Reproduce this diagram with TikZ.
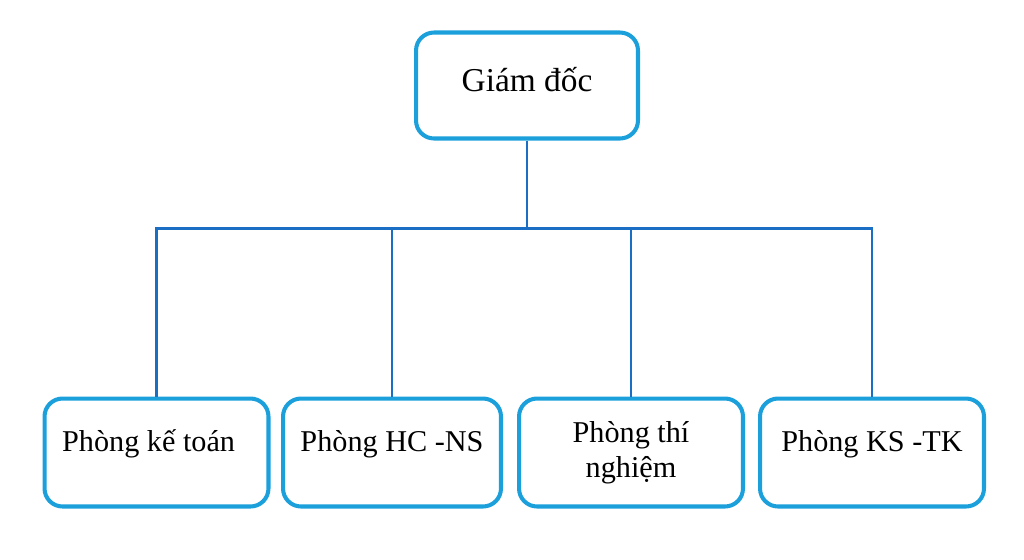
\documentclass[tikz,border=0pt]{standalone}
\usepackage{fontspec}
\setmainfont{Liberation Serif}
\definecolor{boxcyan}{HTML}{1BA0DC}
\definecolor{lineblue}{HTML}{1A6FC4}

\begin{document}
\begin{tikzpicture}[x=0.02cm, y=-0.02cm,
    unit/.style={rectangle, rounded corners=0.36cm, draw=boxcyan,
        line width=2.3pt, fill=white, minimum width=4.48cm,
        minimum height=2.16cm, inner sep=0pt,
        font=\fontsize{17.2}{20}\selectfont, text height=12pt, text depth=13pt},
    edge/.style={draw=lineblue, line width=1.2pt, -}
]
    \useasboundingbox (0,0) rectangle (1024,559);
    \node[unit, minimum width=4.44cm, minimum height=2.12cm,
        font=\fontsize{19}{22}\selectfont,
        text height=13pt, text depth=6.5pt] (gd) at (527,85.5) {Giám đốc};
    \node[unit] (kt) at (156.5,452.5) {Phòng kế toán\hspace*{9pt}\mbox{}};
    \node[unit, minimum width=4.36cm] (hcns) at (392,452.5) {Phòng HC -NS};
    \node[unit, text height=, text depth=, align=center] (tn) at (631,452.5) {Phòng thí\\nghiệm};
    \node[unit] (kstk) at (872,452.5) {Phòng KS -TK};
    \coordinate (bus) at (527,228.5);
    \draw[edge] (gd) -- (bus);
    \draw[edge] (kt.north) |- (bus) -| (kstk.north);
    \draw[edge] (hcns.north) -- (hcns |- bus);
    \draw[edge] (tn.north) -- (tn |- bus);
\end{tikzpicture}
\end{document}
